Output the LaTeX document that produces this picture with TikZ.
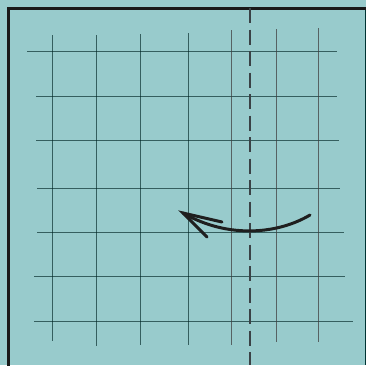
\documentclass[tikz,border=0pt]{standalone}
\begin{document}
\begin{tikzpicture}[x=1pt,y=-1pt,
  gridline/.style={line width=1pt,draw=black!70!teal,opacity=0.65},
  gridlinedark/.style={line width=1pt,draw=black!75,opacity=0.75},
  foldline/.style={line width=2.6pt,draw={rgb,255:red,58;green,66;blue,70},dash pattern=on 15pt off 6.5pt},
  frameline/.style={line width=3pt,draw=black!90},
  arrowline/.style={line width=3pt,draw=black!88,line cap=round}]
\fill[fill={rgb,255:red,152;green,203;blue,204}] (0,0) rectangle (366,365);
\useasboundingbox (0,0) rectangle (366,365);
% horizontal grid lines
\draw[gridline] (27,51) -- (337,51);
\draw[gridline] (36,96) -- (337,96);
\draw[gridline] (36,140) -- (339,140);
\draw[gridline] (37,188) -- (340,188);
\draw[gridline] (37,232) -- (344,232);
\draw[gridline] (34,276) -- (345,276);
\draw[gridline] (34,321) -- (353,321);
% vertical grid lines
\draw[gridline] (52,35) -- (52,341);
\draw[gridline] (96,35) -- (96,346);
\draw[gridline] (140,34) -- (140,345);
\draw[gridline] (188,33) -- (188,345);
\draw[gridlinedark] (231,30) -- (231,345);
\draw[gridlinedark] (276,29) -- (276,342);
\draw[gridlinedark] (318,28) -- (318,342);
% frame
\draw[line width=1pt,draw=black!60!teal] (365,8) -- (365,365);
\draw[frameline] (8,366) -- (8,8) -- (366,8);
% fold line
\draw[foldline] (250,8) -- (250,365);
% arrow
\coordinate (s) at (310,215);
\coordinate (t) at (183,213);
\coordinate (a1) at (222,222);
\coordinate (a2) at (207,237);
\draw[arrowline] (s) .. controls (280,233) and (230,240) .. (t);
\draw[arrowline] (a1) -- (t) -- (a2);
\end{tikzpicture}
\end{document}
